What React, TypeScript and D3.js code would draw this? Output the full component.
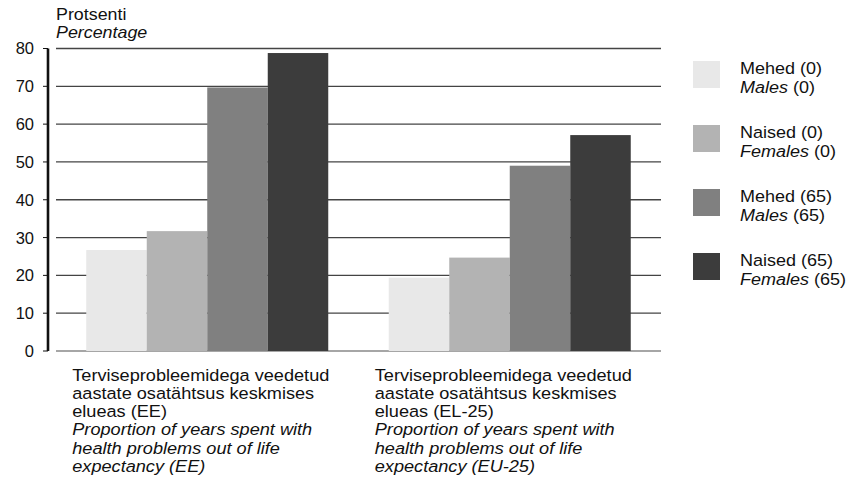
import React from "react";
import * as d3 from "d3";

const groups = ["EE", "EU25"];
const groupLabels = [
  ["Terviseprobleemidega veedetud", "aastate osatähtsus keskmises", "elueas (EE)"],
  ["Terviseprobleemidega veedetud", "aastate osatähtsus keskmises", "elueas (EL-25)"],
];
const groupLabelsEn = [
  ["Proportion of years spent with", "health problems out of life", "expectancy (EE)"],
  ["Proportion of years spent with", "health problems out of life", "expectancy (EU-25)"],
];
const seriesKeys = ["m0", "f0", "m65", "f65"];
const seriesEt = ["Mehed (0)", "Naised (0)", "Mehed (65)", "Naised (65)"];
const seriesEnWord = ["Males", "Females", "Males", "Females"];
const seriesEnAge = ["(0)", "(0)", "(65)", "(65)"];
const seriesColors = ["#e8e8e8", "#b3b3b3", "#808080", "#3c3c3c"];
const valuesEE = [26.7, 31.7, 69.7, 78.8];
const valuesEU = [19.4, 24.7, 49.0, 57.1];
const yTicks = [0, 10, 20, 30, 40, 50, 60, 70, 80];

const W = 852;
const H = 491;
const FONT = "'Liberation Sans', Arial, sans-serif";

export default function App() {
  const x0 = d3.scaleBand<string>().domain(groups).range([56, 661]).paddingInner(0.2).paddingOuter(0.1);
  const x1 = d3.scaleBand<string>().domain(seriesKeys).range([0, x0.bandwidth()]);
  const y = d3.scaleLinear().domain([0, 80]).range([351, 48.5]);
  const data = [valuesEE, valuesEU];

  return (
    <svg width={W} height={H} style={{ position: "absolute", left: 0, top: 0, fontFamily: FONT }}>
      <rect width={W} height={H} fill="#fff" />
      {yTicks.map((t) => (
        <line key={"g" + t} x1={56} x2={661} y1={y(t)} y2={y(t)} stroke={t === 0 ? "#888" : "#444"} strokeWidth={1.3} />
      ))}
      {groups.map((g, gi) => (
        <g key={g} transform={`translate(${x0(g)},0)`}>
          {seriesKeys.map((k, si) => (
            <rect
              key={k}
              x={x1(k)}
              width={x1.bandwidth()}
              y={y(data[gi][si])}
              height={y(0) - y(data[gi][si])}
              fill={seriesColors[si]}
            />
          ))}
        </g>
      ))}
      <line x1={48} x2={48} y1={y(80)} y2={y(0)} stroke="#111" strokeWidth={2.6} />
      {yTicks.map((t) => (
        <g key={"t" + t}>
          <line x1={43} x2={48} y1={y(t)} y2={y(t)} stroke="#111" strokeWidth={1} />
          <text x={34} y={y(t)} dy="0.36em" textAnchor="end" fontSize={16.5} fill="#111">
            {t}
          </text>
        </g>
      ))}
      <text transform="translate(56,19.5) scale(1.05,1)" fontSize={17} fill="#111">Protsenti</text>
      <text transform="translate(56,38) scale(1.05,1)" fontSize={17} fontStyle="italic" fill="#111">Percentage</text>
      {groups.map((g, gi) => {
        const lx = (x0(g) as number) - 14;
        const lines = [...groupLabels[gi], ...groupLabelsEn[gi]];
        return (
          <g key={"l" + g}>
            {lines.map((s, li) => (
              <text
                key={li}
                transform={`translate(${lx},${380.5 + li * 18.3}) scale(1.1,1)`}
                fontSize={16.5}
                fill="#111"
                fontStyle={li >= 3 ? "italic" : "normal"}
              >
                {s}
              </text>
            ))}
          </g>
        );
      })}
      {seriesKeys.map((k, i) => {
        const top = 61 + i * 64;
        return (
          <g key={"leg" + k}>
            <rect x={693} y={top} width={27} height={27} fill={seriesColors[i]} />
            <text transform={`translate(740,${top + 13}) scale(1.06,1)`} fontSize={17} fill="#111">{seriesEt[i]}</text>
            <text transform={`translate(740,${top + 31.5}) scale(1.06,1)`} fontSize={17} fill="#111">
              <tspan fontStyle="italic">{seriesEnWord[i]}</tspan> {seriesEnAge[i]}
            </text>
          </g>
        );
      })}
    </svg>
  );
}
